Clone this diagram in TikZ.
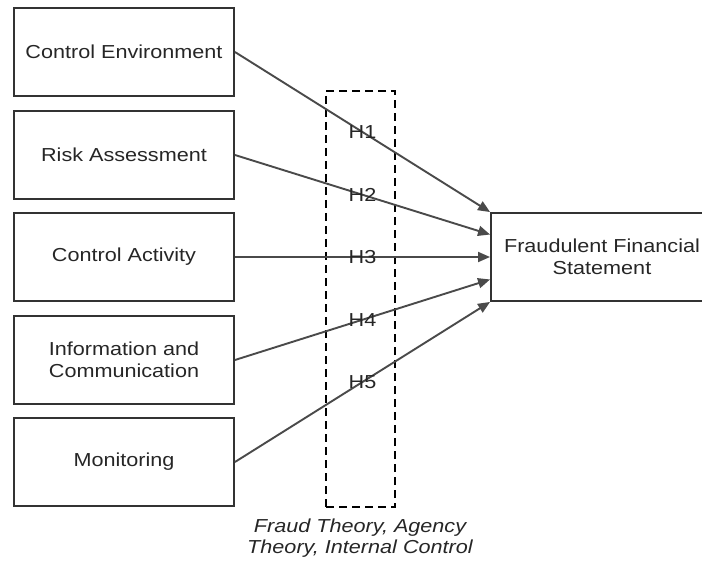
\documentclass[tikz,border=0pt]{standalone}
\usepackage{fontspec}
\setmainfont[FakeStretch=1.15]{Liberation Sans}
\usetikzlibrary{arrows.meta,calc}
\definecolor{edgegray}{HTML}{333333}
\definecolor{linegray}{HTML}{4A4A4A}
\definecolor{textgray}{HTML}{262626}
\begin{document}
\begin{tikzpicture}[x=1pt,y=-1pt,
  font=\fontsize{18.8}{22}\selectfont,
  varbox/.style={draw=edgegray, line width=1.9pt, minimum width=220pt, minimum height=88pt,
    inner sep=0pt, align=center, text=textgray},
  link/.style={draw=linegray, line width=1.9pt,
    -{Triangle[length=12pt,width=10pt]}},
  hyp/.style={text=textgray, inner sep=1pt}]
\useasboundingbox (0,0) rectangle (702,567);
\clip (0,0) rectangle (702,567);

% independent variables
\node[varbox] (ce) at (124,52)  {Control Environment};
\node[varbox] (ra) at (124,155) {Risk Assessment};
\node[varbox] (ca) at (124,257) {Control Activity};
\node[varbox] (ic) at (124,360) {Information and\\Communication};
\node[varbox] (mo) at (124,462) {Monitoring};

% dependent variable (runs past the right edge)
\node[varbox, minimum width=222pt] (fs) at (602,257) {Fraudulent Financial\\Statement};

% theory frame
\node[draw=black, line width=1.9pt, dash pattern=on 8pt off 5pt,
      minimum width=69pt, minimum height=416pt, inner sep=0pt] (frame) at (360.5,299) {};
\node[text=textgray, align=center, font=\fontsize{18.8}{21}\selectfont\itshape]
  (theory) at (360,538) {Fraud Theory, Agency\\Theory, Internal Control};

% arrow targets on the left side of the dependent box
\coordinate (t1) at (fs.north west);
\coordinate (t2) at ($(fs.north west)!0.25!(fs.south west)$);
\coordinate (t3) at (fs.west);
\coordinate (t4) at ($(fs.north west)!0.75!(fs.south west)$);
\coordinate (t5) at (fs.south west);

\draw[link] (ce.east) -- node[hyp] {H1} (t1);
\draw[link] (ra.east) -- node[hyp] {H2} (t2);
\draw[link] (ca.east) -- node[hyp] {H3} (t3);
\draw[link] (ic.east) -- node[hyp] {H4} (t4);
\draw[link] (mo.east) -- node[hyp] {H5} (t5);
\end{tikzpicture}
\end{document}
